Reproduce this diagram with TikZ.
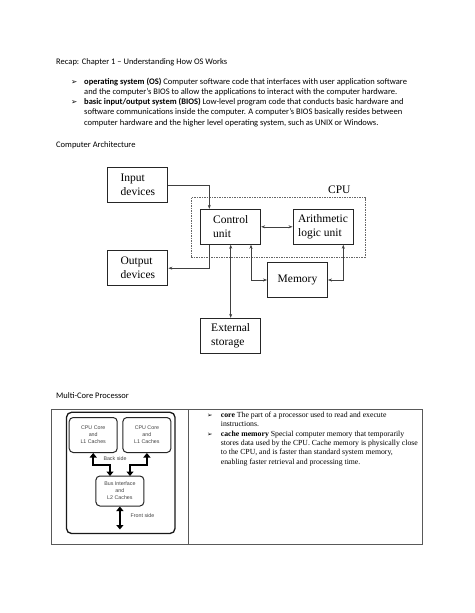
\documentclass[tikz,border=0pt]{standalone}
\usepackage{fontspec}
\setmainfont{Carlito}
\newfontfamily\timesf{Liberation Serif}
\newfontfamily\arialf{Liberation Sans}
\newfontfamily\dejavu{DejaVu Sans}
\usetikzlibrary{arrows.meta,calc}
\begin{document}
\begin{tikzpicture}[x=1pt,y=-1pt,
  body/.style={inner sep=0pt,anchor=base west,font=\fontsize{8.5}{10.2}\selectfont},
  bul/.style={inner sep=0pt,anchor=base west,font=\dejavu\fontsize{7.5}{8}\selectfont},
  abox/.style={draw=black!85,line width=0.9pt,minimum width=60pt,minimum height=35pt,inner sep=0pt,align=left,
    font=\timesf\fontsize{11.5}{14}\selectfont},
  arr/.style={draw=black!75,line width=0.6pt,-{Stealth[length=4pt,width=3pt]}},
  darr/.style={draw=black!75,line width=0.6pt,{Stealth[length=4pt,width=3pt]}-{Stealth[length=4pt,width=3pt]}},
  mbox/.style={draw=black!85,line width=1pt,rounded corners=4pt,minimum width=48pt,minimum height=35pt,inner sep=0pt,
    align=center,font=\arialf\fontsize{5.3}{7}\selectfont,text=black!75},
  thick arr/.style={line width=2.4pt,{Triangle[length=4.5pt,width=7pt]}-{Triangle[length=4.5pt,width=7pt]}},
  ttext/.style={inner sep=0pt,anchor=base west,font=\timesf\fontsize{7.75}{9.4}\selectfont},
  mlabel/.style={inner sep=0pt,font=\arialf\fontsize{5.3}{7}\selectfont,text=black!75}
]
\useasboundingbox (0,0) rectangle (474,613);
\fill[white] (0,0) rectangle (474,613);

% --- header text
\node[body] (recap) at (56,64.5) {Recap: Chapter 1 – Understanding How OS Works};
\node[bul] (b1) at (71,84.8) {➢};
\node[body] (l1) at (84,84.8) {\textbf{operating system (OS)} Computer software code that interfaces with user application software};
\node[body] (l2) at (84,94.6) {and the computer’s BIOS to allow the applications to interact with the computer hardware.};
\node[bul] (b2) at (71,104.8) {➢};
\node[body] (l3) at (84,104.8) {\textbf{basic input/output system (BIOS)} Low-level program code that conducts basic hardware and};
\node[body] (l4) at (84,114.8) {software communications inside the computer. A computer’s BIOS basically resides between};
\node[body] (l5) at (84,125.0) {computer hardware and the higher level operating system, such as UNIX or Windows.};
\node[body] (ca) at (56,147) {Computer Architecture};

% --- computer architecture
\draw[black!60,dashed,line width=0.6pt,dash pattern=on 1.5pt off 1pt] (191,197.7) rectangle (365,257.3);
\node[inner sep=0pt,font=\timesf\fontsize{11.5}{14}\selectfont] (cpu) at (339.3,190) {CPU};
\node[abox] (inp) at (137.9,185) {Input\\devices};
\node[abox] (ctrl) at (230.7,226.8) {Control\\unit};
\node[abox] (alu) at (323,226.8) {Arithmetic\\logic unit};
\node[abox] (outp) at (137.9,268.2) {Output\\devices};
\node[abox] (mem) at (297.5,280) {Memory};
\node[abox] (ext) at (230.7,335.8) {External\\storage};

\draw[arr] (inp.east) -| ([xshift=-21.4pt]ctrl.north);
\draw[arr] ([xshift=-21.4pt]ctrl.south) |- (outp.east);
\draw[darr] (ctrl.east) -- (alu.west);
\draw[darr] (ctrl.south) -- (ext.north);
\draw[darr] ([xshift=20.3pt]ctrl.south) |- (mem.west);
\draw[darr] ([xshift=20.3pt]alu.south) |- (mem.east);

% --- multi-core
\node[body] (mc) at (56,398) {Multi-Core Processor};
\draw[black!65,line width=0.7pt] (51.7,409.3) rectangle (422.7,544.3);
\draw[black!65,line width=0.7pt] (188.5,409.3) -- (188.5,544.3);

\draw[black!90,line width=1.3pt,rounded corners=5pt] (66.5,412.3) rectangle (175,533.5);
\node[mbox] (c1) at (93.2,435) {CPU Core\\and\\L1 Caches};
\node[mbox] (c2) at (146.9,435) {CPU Core\\and\\L1 Caches};
\node[mbox,minimum height=30pt] (bus) at (119.9,491) {Bus Interface\\and\\L2 Caches};
\node[mlabel] (bs) at (115,459) {Back side};
\node[mlabel,anchor=west] (fsl) at (130.5,516) {Front side};
\coordinate (fs) at (119.9,529.5);
\draw[thick arr] (c1.south) |- (110,465) -- (110,476);
\draw[thick arr] (c2.south) |- (130,465) -- (130,476);
\draw[thick arr] (bus.south) -- (fs);

% --- right cell text
\node[bul,font=\dejavu\fontsize{6.5}{7}\selectfont] (rb1) at (207,417) {➢};
\node[ttext] (r1) at (220.7,417) {\textbf{core} The part of a processor used to read and execute};
\node[ttext] (r2) at (220.7,426.2) {instructions.};
\node[bul,font=\dejavu\fontsize{6.5}{7}\selectfont] (rb2) at (207,436.3) {➢};
\node[ttext] (r3) at (220.7,436.3) {\textbf{cache memory} Special computer memory that temporarily};
\node[ttext] (r4) at (220.7,445.5) {stores data used by the CPU. Cache memory is physically close};
\node[ttext] (r5) at (220.7,454.8) {to the CPU, and is faster than standard system memory,};
\node[ttext] (r6) at (220.7,464.6) {enabling faster retrieval and processing time.};
\end{tikzpicture}
\end{document}
